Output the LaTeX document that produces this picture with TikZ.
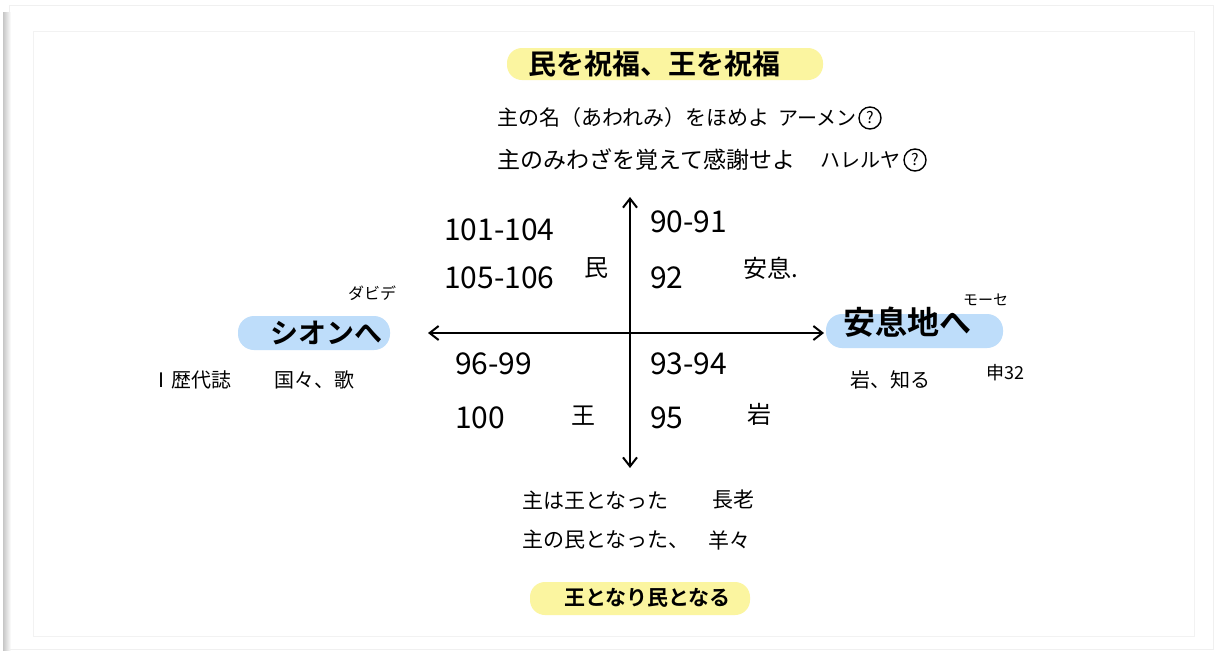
\documentclass[tikz,border=0pt]{standalone}
\usepackage{fontspec}
\setmainfont{Noto Sans CJK JP}[BoldFont=* Bold]
\usetikzlibrary{arrows.meta}
\definecolor{hly}{RGB}{251,245,160}
\definecolor{hlb}{RGB}{190,221,250}
\tikzset{
  txt/.style={inner sep=0pt, anchor=west, font=\fontsize{21}{24}\selectfont},
  num/.style={inner sep=0pt, anchor=west, font=\fontsize{30}{32}\selectfont},
  small/.style={inner sep=0pt, anchor=west, font=\fontsize{16}{18}\selectfont},
  hlyel/.style={fill=hly, rounded corners=15pt, draw=none},
  hlblue/.style={fill=hlb, rounded corners=16pt, draw=none},
  qmark/.style={circle, draw, line width=1.4pt, inner sep=0pt, minimum size=22pt, font=\fontsize{16}{16}\selectfont},
  axis/.style={line width=2.4pt, -{Straight Barb[length=9pt,width=14pt,line width=2pt]}},
}
\begin{document}
\begin{tikzpicture}[x=1pt,y=-1pt]
\useasboundingbox (0,0) rectangle (1217,657);
\fill[white] (0,0) rectangle (1217,657);
% card
\shade[left color=gray!45, right color=white] (3,12) rectangle (11,650);
\draw[gray!12, line width=1pt] (9,5) rectangle (1213,649);
\draw[gray!10, line width=0.8pt] (33,31) rectangle (1194,636);
% highlights
\fill[hlyel] (507,48) rectangle (823,80);
\fill[hlyel] (530,582) rectangle (750,615);
\fill[hlblue] (238,316) rectangle (390,350);
\fill[hlblue] (826,314) rectangle (1003,348);
% title lines
\node[inner sep=0pt, anchor=west, font=\fontsize{28}{30}\selectfont\bfseries] (title) at (528,64) {民を祝福、王を祝福};
\node[txt] (l1) at (497,118) {主の名（あわれみ）をほめよ};
\node[txt, font=\fontsize{20}{22}\selectfont] (l1b) at (778,118) {アーメン};
\node[qmark] (q1) at (870,118) {?};
\node[txt, font=\fontsize{23}{24}\selectfont] (l2) at (497,160) {主のみわざを覚えて感謝せよ};
\node[txt, font=\fontsize{20}{22}\selectfont] (l2b) at (820,160) {ハレルヤ};
\node[qmark] (q2) at (915,160) {?};
% axes
\coordinate (top) at (630,197);
\coordinate (bot) at (630,468);
\coordinate (left) at (428,333);
\coordinate (right) at (824,333);
\coordinate (origin) at (630,333);
\draw[axis] (origin) -- (top);
\draw[axis] (origin) -- (bot);
\draw[axis] (origin) -- (left);
\draw[axis] (origin) -- (right);
% quadrants
\node[num] (a1) at (444,230) {101-104};
\node[num] (a2) at (444,278) {105-106};
\node[txt, font=\fontsize{24}{24}\selectfont] (a3) at (584,268) {民};
\node[num] (b1) at (650,222) {90-91};
\node[num] (b2) at (650,278) {92};
\node[txt, font=\fontsize{24}{24}\selectfont] (b3) at (743,268) {安息.};
\node[num] (c1) at (455,364) {96-99};
\node[num] (c2) at (455,418) {100};
\node[txt, font=\fontsize{24}{24}\selectfont] (c3) at (571,416) {王};
\node[num] (d1) at (650,364) {93-94};
\node[num] (d2) at (650,418) {95};
\node[txt, font=\fontsize{24}{24}\selectfont] (d3) at (747,414) {岩};
% left side
\node[inner sep=0pt, anchor=west, font=\fontsize{28}{30}\selectfont\bfseries] (zion) at (270,333) {シオンへ};
\node[small] (david) at (348,293) {ダビデ};
\node[txt, font=\fontsize{20}{22}\selectfont] (chron) at (151,380) {Ⅰ歴代誌};
\node[txt, font=\fontsize{20}{22}\selectfont] (songs) at (274,380) {国々、歌};
% right side
\node[inner sep=0pt, anchor=west, font=\fontsize{32}{34}\selectfont\bfseries] (rest) at (843,322) {安息地へ};
\node[small, font=\fontsize{15}{16}\selectfont] (moses) at (963,300) {モーセ};
\node[txt, font=\fontsize{20}{22}\selectfont] (rock) at (850,380) {岩、知る};
\node[txt, font=\fontsize{18}{20}\selectfont] (deut) at (986,373) {申32};
% bottom lines
\node[txt] (m1) at (522,500) {主は王となった};
\node[txt] (m1b) at (712,500) {長老};
\node[txt] (m2) at (522,540) {主の民となった、};
\node[txt] (m2b) at (708,540) {羊々};
\node[inner sep=0pt, anchor=west, font=\fontsize{21}{24}\selectfont\bfseries] (motto) at (564,598) {王となり民となる};
\end{tikzpicture}
\end{document}
